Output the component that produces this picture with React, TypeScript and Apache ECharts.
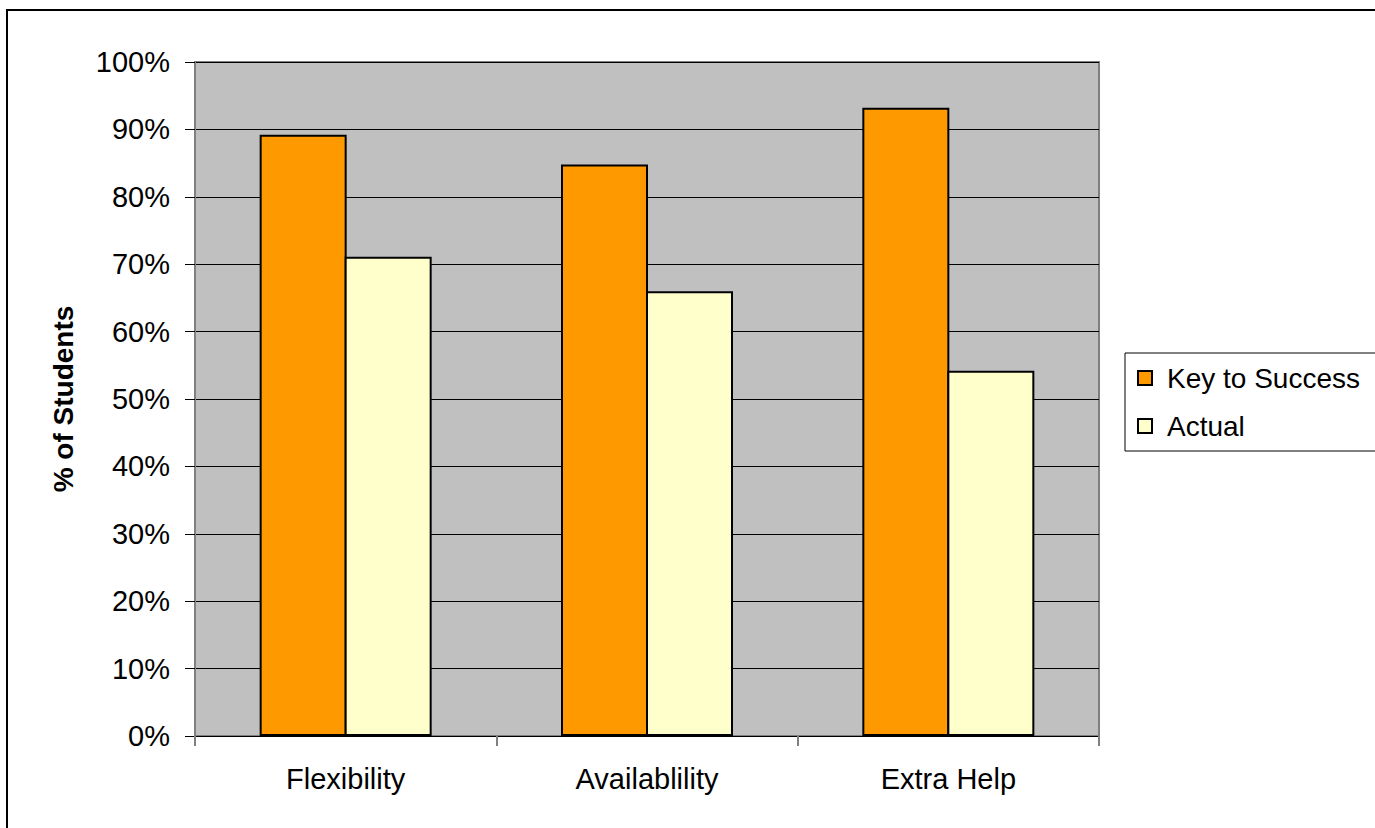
import React, { useEffect, useRef } from "react";
import * as echarts from "echarts";

const categories = ["Flexibility", "Availablility", "Extra Help"];
const keyToSuccess = [89.2, 84.8, 93.2];
const actual = [71.1, 66.0, 54.2];
const seriesNames = ["Key to Success", "Actual"];
const yAxisName = "% of Students";

const FONT = "'Liberation Sans', Arial, sans-serif";

export default function App() {
  const ref = useRef<HTMLDivElement>(null);
  useEffect(() => {
    if (!ref.current) return;
    const chart = echarts.init(ref.current, undefined, { renderer: "svg" });
    chart.setOption({
      animation: false,
      backgroundColor: "#ffffff",
      textStyle: { fontFamily: FONT },
      graphic: [
        {
          type: "rect",
          shape: { x: 7, y: 10, width: 1420, height: 900 },
          style: { fill: "none", stroke: "#000", lineWidth: 2 },
          silent: true,
          z: 100,
        },
      ],
      grid: {
        left: 195,
        top: 62,
        width: 904,
        height: 674,
        show: true,
        backgroundColor: "#C0C0C0",
        borderColor: "#808080",
        borderWidth: 2,
      },
      legend: {
        orient: "vertical",
        left: 1125,
        top: 353,
        backgroundColor: "#ffffff",
        borderColor: "#000",
        borderWidth: 1,
        padding: [10, 40, 10, 12],
        itemGap: 18,
        itemWidth: 14,
        itemHeight: 14,
        icon: "rect",
        data: seriesNames,
        textStyle: {
          fontFamily: FONT,
          fontSize: 28,
          color: "#000",
          lineHeight: 30,
          padding: [0, 0, 0, 10],
        },
      },
      xAxis: {
        type: "category",
        data: categories,
        axisLine: { show: true, lineStyle: { color: "#000", width: 1 } },
        axisTick: {
          show: true,
          length: 10,
          alignWithLabel: false,
          lineStyle: { color: "#808080", width: 2 },
        },
        axisLabel: {
          fontFamily: FONT,
          fontSize: 29,
          color: "#000",
          margin: 28,
        },
      },
      yAxis: {
        type: "value",
        min: 0,
        max: 100,
        interval: 10,
        name: yAxisName,
        nameLocation: "middle",
        nameGap: 118,
        nameRotate: 90,
        nameTextStyle: {
          fontFamily: FONT,
          fontSize: 28,
          fontWeight: "bold",
          color: "#000",
        },
        axisLine: { show: true, lineStyle: { color: "#808080", width: 2 } },
        axisTick: { show: true, length: 10, lineStyle: { color: "#000", width: 1 } },
        axisLabel: {
          fontFamily: FONT,
          fontSize: 29,
          color: "#000",
          margin: 25,
          formatter: "{value}%",
        },
        splitLine: { show: true, lineStyle: { color: "#000", width: 1 } },
      },
      series: [
        {
          name: seriesNames[0],
          type: "bar",
          data: keyToSuccess,
          barWidth: 87,
          barGap: "-2.3%",
          itemStyle: { color: "#FF9900", borderColor: "#000", borderWidth: 2 },
        },
        {
          name: seriesNames[1],
          type: "bar",
          data: actual,
          barWidth: 87,
          barGap: "-2.3%",
          itemStyle: { color: "#FFFFCC", borderColor: "#000", borderWidth: 2 },
        },
      ],
    });
    return () => chart.dispose();
  }, []);
  return (
    <div
      ref={ref}
      style={{ position: "fixed", left: 0, top: 0, width: 1375, height: 828 }}
    />
  );
}
